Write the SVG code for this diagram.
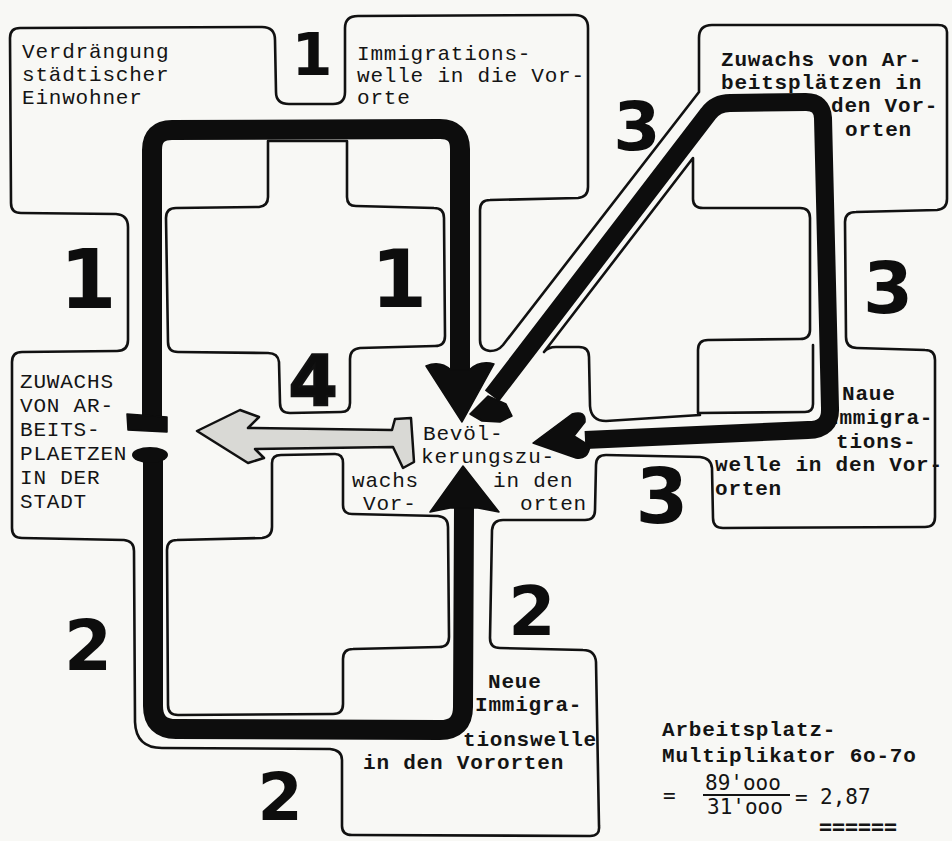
<svg xmlns="http://www.w3.org/2000/svg" width="952" height="841" viewBox="0 0 952 841">
<defs>
<style>
.ol{fill:none;stroke:#111;stroke-width:2.6;stroke-linejoin:round;stroke-linecap:round}
.th{fill:none;stroke:#0d0d0d;stroke-linejoin:round;stroke-linecap:butt}
.hd{fill:#0d0d0d;stroke:#0d0d0d;stroke-width:1.5;stroke-linejoin:round}
.t{font-family:"Liberation Mono","DejaVu Sans Mono",monospace;font-size:21px;letter-spacing:0.8px;fill:#141414}
.tb{font-family:"Liberation Mono","DejaVu Sans Mono",monospace;font-size:21px;letter-spacing:0.8px;font-weight:bold;fill:#141414}
.tf{font-family:"DejaVu Sans Mono","Liberation Mono",monospace;font-size:21px;fill:#141414}
.num{font-family:"DejaVu Sans","Liberation Sans",sans-serif;font-weight:bold;fill:#0d0d0d;text-anchor:middle}
</style>
</defs>
<rect width="952" height="841" fill="#f8f8f5"/>

<g id="outlines">
<path class="ol" d="M947,32 Q947,25 938,25 L712,25 Q699,25 699,38 L699,92 L503,345 Q498,351 490,351 Q480,350 480,340 L480,210 Q480,200 490,200 L578,198 Q588,197 588,187 L588,28 Q588,15 575,15 L358,16 Q345,16 345,28 L345,92 Q345,104 333,104 L289,104 Q276,104 276,92 L275,40 Q275,27 262,27 L20,28 Q10,28 10,38 L11,203 Q11,213 21,213 L116,214 Q128,215 128,227 L128,340 Q128,351 117,351 L22,352 Q12,352 12,362 L12,528 Q12,538 22,538 L124,540 Q134,541 134,551 L135,722 Q136,748 162,748 L330,749 Q342,750 342,760 L342,826 Q342,835 352,835 L590,836 Q600,836 599,826 L596,662 Q595,650 583,650 L500,648 Q490,648 490,638 L492,530 Q493,520 503,520 L585,520 Q595,520 595,510 L596,465 Q596,455 606,455 L700,457 Q711,458 712,468 L713,518 Q713,528 723,528 L925,527 Q935,527 935,517 L935,360 Q935,350 925,350 L857,348 Q846,348 846,337 L845,222 Q845,212 856,212 L937,210 Q947,209 947,199 Z"/>
<path class="ol" d="M268,141 L347,141 L347,197 Q347,206 356,206 L434,208 Q444,208 444,218 L445,336 Q445,346 435,346 L360,348 Q350,349 350,359 L350,403 Q350,412 341,412 L290,413 Q280,413 280,403 L279,362 Q278,353 268,353 L178,352 Q168,352 168,342 L166,218 Q166,208 176,208 L259,207 Q268,206 268,197 Z"/>
<path class="ol" d="M272,463 Q272,455 281,455 L335,454 Q343,454 343,463 L343,505 Q343,514 352,514 L438,516 Q448,517 448,527 L449,637 Q449,647 439,647 L353,649 Q343,649 343,659 L343,704 Q343,714 333,714 L178,715 Q168,715 168,705 L167,550 Q167,540 177,540 L262,538 Q272,537 272,527 Z"/>
<path class="ol" d="M700,415 L606,421 Q591,421 590,406 L589,357 Q589,347 579,347 L556,347 Q548,347 544,352 L693,158 L693,199 Q693,208 703,208 L800,208 Q810,208 810,218 L810,330 Q810,339 800,339 L708,340 Q698,340 698,350 L698,413 L805,412 Q813,412 813,404 L813,345"/>
</g>

<g id="node-verdraengung">
<text class="t" x="22" y="58">Verdrängung</text>
<text class="t" x="22" y="81">städtischer</text>
<text class="t" x="22" y="104">Einwohner</text>
</g>
<g id="node-immigrationswelle">
<text class="t" x="357" y="60">Immigrations-</text>
<text class="t" x="357" y="82">welle in die Vor-</text>
<text class="t" x="357" y="104">orte</text>
</g>
<g id="node-zuwachs-vororte">
<text class="tb" x="721" y="66">Zuwachs von Ar-</text>
<text class="tb" x="721" y="89">beitsplätzen in</text>
<text class="tb" x="831" y="112">den Vor-</text>
<text class="tb" x="845" y="136">orten</text>
</g>
<g id="node-zuwachs-stadt">
<text class="t" x="20" y="388">ZUWACHS</text>
<text class="t" x="20" y="412">VON AR-</text>
<text class="t" x="20" y="436">BEITS-</text>
<text class="t" x="20" y="460">PLAETZEN</text>
<text class="t" x="20" y="484">IN DER</text>
<text class="t" x="20" y="508">STADT</text>
</g>
<g id="node-bevoelkerung">
<text class="t" x="423" y="440">Bevöl-</text>
<text class="t" x="421" y="463">kerungszu-</text>
<text class="t" x="352" y="487">wachs</text>
<text class="t" x="493" y="487">in den</text>
<text class="t" x="363" y="510">Vor-</text>
<text class="t" x="520" y="510">orten</text>
</g>
<g id="node-neue-rechts">
<text class="tb" x="842" y="400">Naue</text>
<text class="tb" x="826" y="424">Immigra-</text>
<text class="tb" x="836" y="448">tions-</text>
<text class="tb" x="715" y="471">welle in den Vor-</text>
<text class="tb" x="715" y="495">orten</text>
</g>
<g id="node-neue-unten">
<text class="tb" x="488" y="688">Neue</text>
<text class="tb" x="475" y="711">Immigra-</text>
<text class="tb" x="463" y="746">tionswelle</text>
<text class="tb" x="363" y="769">in den Vororten</text>
</g>
<g id="node-multiplikator">
<text class="tb" x="662" y="736">Arbeitsplatz-</text>
<text class="tb" x="662" y="762">Multiplikator 6o-7o</text>
<text class="tf" x="663" y="803">=</text>
<text class="tf" x="705" y="790">89'ooo</text>
<line x1="703" y1="795" x2="790" y2="795" stroke="#141414" stroke-width="2"/>
<text class="tf" x="707" y="814">31'ooo</text>
<text class="tf" x="795" y="805">=</text>
<text class="tf" x="820" y="804">2,87</text>
<text class="tf" x="819" y="834" font-size="14" font-weight="bold" textLength="78" lengthAdjust="spacingAndGlyphs">======</text>
</g>

<g id="connectors">
<path class="th" stroke-width="20" d="M152,420 L152,150 Q152,130 172,130 L440,129 Q460,129 460,149 L460,372"/>
<path class="hd" d="M426,366 Q440,360 451,370 L469,370 Q480,360 494,364 L462,422 Z"/>
<path class="hd" d="M127,414 L167,417 L167,432 L128,430 Z"/>
<path class="th" stroke-width="20" d="M153,458 L153,706 Q153,729 176,729 L440,730 Q463,730 463,707 L464,508"/>
<path class="hd" d="M463,466 L499,512 L478,508 L450,508 L430,512 Z"/>
<ellipse cx="150" cy="455" rx="18" ry="8" fill="#0d0d0d"/>
<path class="th" stroke-width="18" d="M492,396 L708,114 Q716,103 730,103 L806,102 Q822,102 823,118 L830,408 Q831,430 808,430 L585,440"/>
<path class="hd" d="M470,414 L488,396 L506,404 L512,416 L500,422 L482,421 Z"/>
<path class="hd" d="M533,443 L572,414 Q586,410 585,422 L574,436 L590,446 Q588,460 576,458 Z"/>
<path d="M197,431 L240,410 L259,417 L248,428 L392,430 L395,419 L411,418 L414,462 L403,468 L393,447 L255,449 L264,458 L248,463 Z" fill="#d9d9d5" stroke="#111" stroke-width="2.5" stroke-linejoin="round"/>
</g>

<g id="numbers">
<text class="num" x="312" y="75" font-size="59">1</text>
<text class="num" x="88" y="308" font-size="82">1</text>
<text class="num" x="399" y="307" font-size="81">1</text>
<text class="num" x="313" y="405" font-size="70" fill="#e2e2de" stroke="#111" stroke-width="2.5">4</text>
<text class="num" x="88" y="670" font-size="69">2</text>
<text class="num" x="280" y="820" font-size="65">2</text>
<text class="num" x="532" y="635" font-size="68">2</text>
<text class="num" x="637" y="150" font-size="68">3</text>
<text class="num" x="888" y="313" font-size="72">3</text>
<text class="num" x="662" y="523" font-size="76">3</text>
</g>
</svg>
